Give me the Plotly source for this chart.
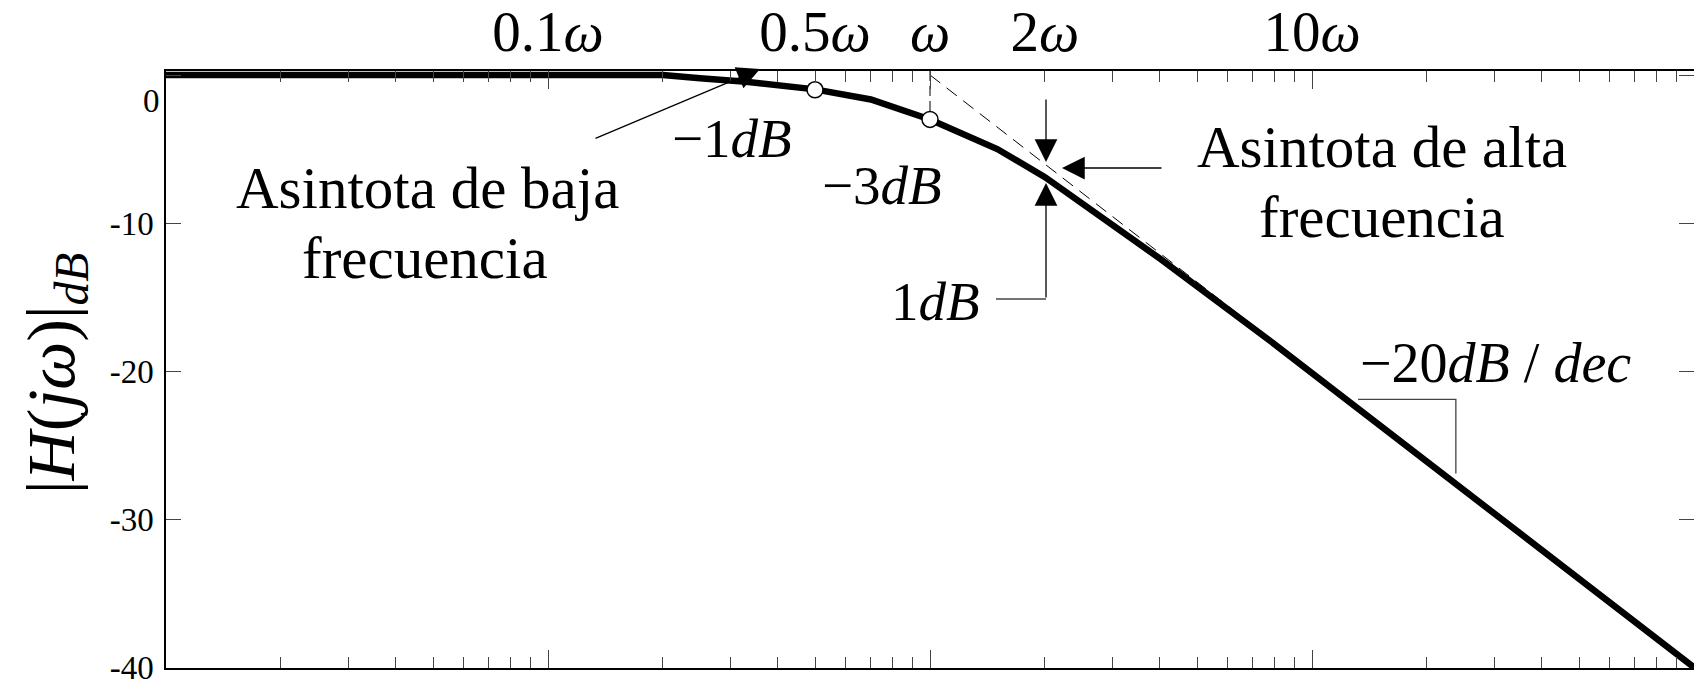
import numpy as np
import plotly.graph_objects as go

# ---------------- data ----------------
freq = [0.01, 0.2, 0.25, 0.33, 0.5, 0.7, 1.0, 1.5, 2.0, 3.0, 4.0, 8.0, 100.0]
mag_db = [0.0, 0.0, -0.22, -0.45, -0.97, -1.65, -3.0, -5.0, -6.9, -10.1, -12.4, -18.2, -40.0]

asym_freq = [1.0, 100.0]
asym_db = [0.0, -40.0]
corner_freq = [1.0, 1.0]
corner_db = [0.27, -3.0]
marker_freq = [0.5, 1.0]
marker_db = [-1.0, -3.0]

slope_freq = [13.2, 23.8, 23.8]
slope_db = [-21.9, -21.9, -26.9]

top_tick_vals = [0.1, 0.5, 1, 2, 10]
top_tick_text = ["0.1<i>ω</i>", "0.5<i>ω</i>", "<i>ω</i>", "2<i>ω</i>", "10<i>ω</i>"]
y_tick_vals = [0, -10, -20, -30, -40]
y_tick_text = ["", "-10", "-20", "-30", "-40"]

# ---------------- layout geometry ----------------
W, H = 1694, 681
ML, MR, MT, MB = 166, 0, 71, 13
PW, PH = W - ML - MR, H - MT - MB
SERIF = "Liberation Serif"


def px(xp, yp):
    """pixel position -> paper coordinates"""
    return (xp - ML) / PW, (H - MB - yp) / PH


fig = go.Figure()

# asymptote (dashed) and vertical at corner frequency
fig.add_trace(go.Scatter(x=asym_freq, y=asym_db, mode="lines",
                         line=dict(color="black", width=1, dash="13px,8px"),
                         hoverinfo="skip", showlegend=False))
fig.add_trace(go.Scatter(x=corner_freq, y=corner_db, mode="lines",
                         line=dict(color="black", width=1, dash="10px,5px"),
                         hoverinfo="skip", showlegend=False))
# slope triangle
fig.add_trace(go.Scatter(x=slope_freq, y=slope_db, mode="lines",
                         line=dict(color="#444444", width=1.3),
                         hoverinfo="skip", showlegend=False))
# magnitude curve
fig.add_trace(go.Scatter(x=freq, y=mag_db, mode="lines",
                         line=dict(color="black", width=6.5),
                         hoverinfo="skip", showlegend=False))
# -1 dB / -3 dB points
fig.add_trace(go.Scatter(x=marker_freq, y=marker_db, mode="markers",
                         marker=dict(size=16, color="white",
                                     line=dict(color="black", width=1.5)),
                         hoverinfo="skip", showlegend=False))
# invisible traces to bind the top axes
for ax in ("x2", "x3"):
    fig.add_trace(go.Scatter(x=asym_freq, y=asym_db, xaxis=ax, mode="lines",
                             line=dict(width=0), opacity=0,
                             hoverinfo="skip", showlegend=False))

annotations = []


def text_ann(txt, xp, yp, size, **kw):
    x, y = px(xp, yp)
    annotations.append(dict(text=txt, x=x, y=y, xref="paper", yref="paper",
                            xanchor="center", yanchor="middle", showarrow=False,
                            font=dict(family=SERIF, size=size, color="black"), **kw))


def arrow_ann(tip, tail):
    x, y = px(*tip)
    annotations.append(dict(text="", x=x, y=y, xref="paper", yref="paper",
                            ax=tail[0] - tip[0], ay=tail[1] - tip[1],
                            axref="pixel", ayref="pixel",
                            showarrow=True, arrowhead=2, arrowsize=3.5,
                            arrowwidth=1.3, arrowcolor="black", standoff=0))


text_ann("Asintota de baja", 427, 188, 59)
text_ann("frecuencia", 425, 258, 59)
text_ann("Asintota de alta", 1382, 147, 59)
text_ann("frecuencia", 1382, 217, 59)
text_ann("−1<i>dB</i>", 732, 138, 55)
text_ann("−3<i>dB</i>", 882, 185, 55)
text_ann("1<i>dB</i>", 935, 301, 55)
text_ann("−20<i>dB</i> / <i>dec</i>", 1495, 363, 56)
text_ann("0", 151, 101, 33)
text_ann("|<i>H</i>(<i>jω</i>)|<sub><i>dB</i></sub>", 55, 374, 68, textangle=-90)

arrow_ann((760, 69), (594, 139))
arrow_ann((1046, 162), (1046, 98))
arrow_ann((1046, 183), (1046, 299))
arrow_ann((1062, 168), (1163, 168))

x0, y0 = px(996, 299)
x1, _ = px(1046, 299)
shapes = [dict(type="line", xref="paper", yref="paper", x0=x0, y0=y0, x1=x1, y1=y0,
               line=dict(color="#444444", width=1.3))]

xcommon = dict(type="log", range=[-2, 2], showgrid=False, zeroline=False)

fig.update_layout(
    width=W, height=H,
    margin=dict(l=ML, r=MR, t=MT, b=MB, autoexpand=False),
    paper_bgcolor="white", plot_bgcolor="white",
    showlegend=False,
    xaxis=dict(**xcommon, showline=True, linecolor="black", linewidth=1.5,
               ticks="inside", ticklen=18, tickwidth=1, tickcolor="#444444",
               dtick=1, showticklabels=False,
               minor=dict(ticks="inside", ticklen=11, tickwidth=1,
                          tickcolor="#444444", dtick="D1", showgrid=False)),
    xaxis2=dict(**xcommon, overlaying="x", side="top", anchor="y",
                showline=True, linecolor="black", linewidth=1.5,
                ticks="inside", ticklen=18, tickwidth=1, tickcolor="#444444",
                dtick=1, showticklabels=False,
                minor=dict(ticks="inside", ticklen=11, tickwidth=1,
                           tickcolor="#444444", dtick="D1", showgrid=False)),
    xaxis3=dict(**xcommon, overlaying="x", side="top", anchor="y",
                showline=False, ticks="", tickmode="array",
                tickvals=top_tick_vals, ticktext=top_tick_text,
                tickfont=dict(family=SERIF, size=57, color="black"),
                ticklabelstandoff=8),
    yaxis=dict(range=[-40.04, 0.27], showgrid=False, zeroline=False,
               showline=True, linecolor="black", linewidth=1.5, mirror="ticks",
               ticks="inside", ticklen=15, tickwidth=1, tickcolor="#444444",
               tickmode="array", tickvals=y_tick_vals, ticktext=y_tick_text,
               tickfont=dict(family=SERIF, size=33, color="black"),
               ticklabelstandoff=4, ticklabeloverflow="allow"),
    annotations=annotations,
    shapes=shapes,
)

fig.write_html("out.html")
